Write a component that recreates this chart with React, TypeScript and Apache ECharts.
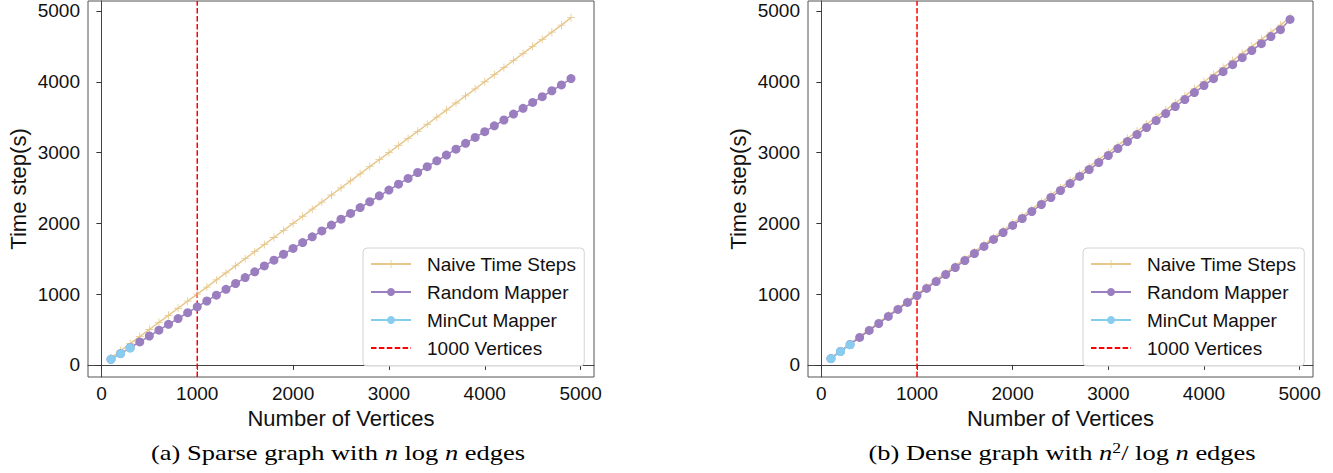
import React, { useEffect, useRef } from "react";
import * as echarts from "echarts";

const vertices = [
  100, 200, 300, 400, 500, 600, 700, 800, 900, 1000, 1100, 1200, 1300, 1400, 1500, 1600, 1700,
  1800, 1900, 2000, 2100, 2200, 2300, 2400, 2500, 2600, 2700, 2800, 2900, 3000, 3100, 3200, 3300,
  3400, 3500, 3600, 3700, 3800, 3900, 4000, 4100, 4200, 4300, 4400, 4500, 4600, 4700, 4800, 4900,
];

// (a) sparse graph
const naiveSparse = [
  100, 200, 300, 400, 500, 600, 700, 800, 900, 1000, 1100, 1200, 1300, 1400, 1500, 1600, 1700,
  1800, 1900, 2000, 2100, 2200, 2300, 2400, 2500, 2600, 2700, 2800, 2900, 3000, 3100, 3200, 3300,
  3400, 3500, 3600, 3700, 3800, 3900, 4000, 4100, 4200, 4300, 4400, 4500, 4600, 4700, 4800, 4905,
];
const randomSparse = [
  78, 160, 243, 325, 408, 490, 573, 655, 738, 820, 903, 985, 1068, 1150, 1233, 1315, 1398, 1480,
  1563, 1645, 1728, 1810, 1893, 1975, 2058, 2140, 2223, 2305, 2388, 2470, 2553, 2635, 2718, 2800,
  2883, 2965, 3048, 3130, 3213, 3295, 3378, 3460, 3543, 3625, 3708, 3790, 3873, 3955, 4045,
];
const mincutVertices = [100, 200, 300];
const mincutSparse = [78, 158, 238];

// (b) dense graph
const naiveDense = [
  100, 200, 300, 400, 500, 600, 700, 800, 900, 1000, 1100, 1200, 1300, 1400, 1500, 1600, 1700,
  1800, 1900, 2000, 2100, 2200, 2300, 2400, 2500, 2600, 2700, 2800, 2900, 3000, 3100, 3200, 3300,
  3400, 3500, 3600, 3700, 3800, 3900, 4000, 4100, 4200, 4300, 4400, 4500, 4600, 4700, 4800, 4910,
];
const randomDense = [
  90, 190, 288, 388, 487, 585, 685, 783, 882, 980, 1080, 1178, 1277, 1376, 1475, 1574, 1673, 1772,
  1870, 1970, 2068, 2167, 2266, 2365, 2464, 2562, 2662, 2760, 2858, 2958, 3056, 3155, 3254, 3353,
  3452, 3550, 3650, 3748, 3847, 3946, 4044, 4143, 4242, 4341, 4440, 4538, 4638, 4736, 4880,
];
const mincutDense = [88, 188, 283];

const markerVertex = [1000];
const xTicks = [0, 1000, 2000, 3000, 4000, 5000];
const yTicks = [0, 1000, 2000, 3000, 4000, 5000];
const X_MIN = -140;
const X_MAX = 5140;
const Y_MIN = -171;
const Y_MAX = 5141;

const seriesNames = ["Naive Time Steps", "Random Mapper", "MinCut Mapper", "1000 Vertices"];
const captions = [
  "(a) Sparse graph with {m|n} log {m|n} edges",
  "(b) Dense graph with {m|n}{s|2}/ log {m|n} edges",
];

const COLORS = {
  naive: "#e6c88c",
  random: "#9b7ebf",
  mincut: "#88cdf0",
  red: "#ff0000",
};

const PLUS = "path://M4.5,0H5.5V4.5H10V5.5H5.5V10H4.5V5.5H0V4.5H4.5Z";
const SANS = "Liberation Sans, Arial, Helvetica, sans-serif";
const SERIF = "Liberation Serif, Times New Roman, serif";

const pairs = (xs: number[], ys: number[]) => xs.map((x, i) => [x, ys[i]]);
const plain = (v: number) => String(v);

export default function App() {
  const ref = useRef<HTMLDivElement>(null);

  useEffect(() => {
    if (!ref.current) return;
    document.body.style.margin = "0";
    const chart = echarts.init(ref.current, undefined, { renderer: "svg" });

    const grids = [
      { left: 88, top: 1, width: 506, height: 376 },
      { left: 808, top: 1, width: 505, height: 376 },
    ];

    const xAxis = grids.map((_, i) => ({
      type: "value",
      gridIndex: i,
      min: X_MIN,
      max: X_MAX,
      name: "Number of Vertices",
      nameLocation: "middle",
      nameGap: 27,
      nameTextStyle: { fontFamily: SANS, fontSize: 22, color: "#111" },
      axisLine: { show: true, lineStyle: { color: "#444", width: 1 } },
      axisTick: { show: true, inside: false, length: 5, customValues: xTicks, lineStyle: { color: "#333" } },
      axisLabel: { customValues: xTicks, formatter: plain, margin: 7, fontFamily: SANS, fontSize: 19, color: "#111" },
      splitLine: { show: false },
    }));

    const yAxis = grids.map((_, i) => ({
      type: "value",
      gridIndex: i,
      min: Y_MIN,
      max: Y_MAX,
      name: "Time step(s)",
      nameLocation: "middle",
      nameGap: 59,
      nameTextStyle: { fontFamily: SANS, fontSize: 22, color: "#111" },
      axisLine: { show: true, lineStyle: { color: "#444", width: 1 } },
      axisTick: { show: true, inside: false, length: 5, customValues: yTicks, lineStyle: { color: "#333" } },
      axisLabel: { customValues: yTicks, formatter: plain, margin: 8, fontFamily: SANS, fontSize: 19, color: "#111" },
      splitLine: { show: false },
    }));

    const makeSeries = (i: number, naive: number[], random: number[], mincut: number[]) => [
      {
        name: seriesNames[0],
        type: "line",
        xAxisIndex: i,
        yAxisIndex: i,
        data: pairs(vertices, naive),
        symbol: PLUS,
        symbolSize: 8,
        lineStyle: { color: COLORS.naive, width: 1.5 },
        itemStyle: { color: COLORS.naive },
      },
      {
        name: seriesNames[1],
        type: "line",
        xAxisIndex: i,
        yAxisIndex: i,
        data: pairs(vertices, random),
        symbol: "circle",
        symbolSize: 9,
        lineStyle: { color: COLORS.random, width: 1.5 },
        itemStyle: { color: COLORS.random },
      },
      {
        name: seriesNames[2],
        type: "line",
        xAxisIndex: i,
        yAxisIndex: i,
        data: pairs(mincutVertices, mincut),
        symbol: "circle",
        symbolSize: 9,
        lineStyle: { color: COLORS.mincut, width: 1.5 },
        itemStyle: { color: COLORS.mincut },
      },
      {
        name: seriesNames[3],
        type: "line",
        xAxisIndex: i,
        yAxisIndex: i,
        data: [
          [markerVertex[0], Y_MIN],
          [markerVertex[0], Y_MAX],
        ],
        symbol: "none",
        lineStyle: { color: COLORS.red, width: 1.5, type: [5.5, 2.4] },
        itemStyle: { color: COLORS.red },
      },
    ];

    const legendBase = {
      orient: "vertical",
      top: 248,
      itemWidth: 40,
      itemHeight: 10,
      itemGap: 8,
      padding: [6, 8, 8, 7],
      backgroundColor: "rgba(255,255,255,0.85)",
      borderColor: "#d4d4d4",
      borderWidth: 1,
      borderRadius: 4,
      textStyle: { fontFamily: SANS, fontSize: 19, color: "#111", lineHeight: 20, padding: [0, 0, 0, 11] },
      data: [
        seriesNames[0],
        seriesNames[1],
        seriesNames[2],
        { name: seriesNames[3], itemStyle: { color: "rgba(0,0,0,0)", opacity: 0, borderWidth: 0 } },
      ],
    };

    const option = {
      animation: false,
      backgroundColor: "#fff",
      grid: grids.map((g) => ({ ...g, show: true, borderColor: "#555", borderWidth: 1, backgroundColor: "transparent" })),
      xAxis,
      yAxis,
      legend: [
        { ...legendBase, left: 363 },
        { ...legendBase, left: 1083 },
      ],
      series: [
        ...makeSeries(0, naiveSparse, randomSparse, mincutSparse),
        ...makeSeries(1, naiveDense, randomDense, mincutDense),
      ],
      graphic: captions.map((text, i) => ({
        type: "text",
        x: i === 0 ? 338 : 1062,
        y: 453,
        scaleX: 1.26,
        style: {
          text,
          fontFamily: SERIF,
          fontSize: 21,
          fill: "#000",
          align: "center",
          verticalAlign: "middle",
          rich: {
            m: { fontFamily: SERIF, fontStyle: "italic", fontSize: 21, fill: "#000" },
            s: { fontFamily: SERIF, fontSize: 14, fill: "#000", padding: [0, 0, 10, 0] },
          },
        },
      })),
    };

    chart.setOption(option as any);
    return () => chart.dispose();
  }, []);

  return (
    <div
      ref={ref}
      style={{ position: "fixed", left: 0, top: 0, width: 1333, height: 473, background: "#fff" }}
    />
  );
}
